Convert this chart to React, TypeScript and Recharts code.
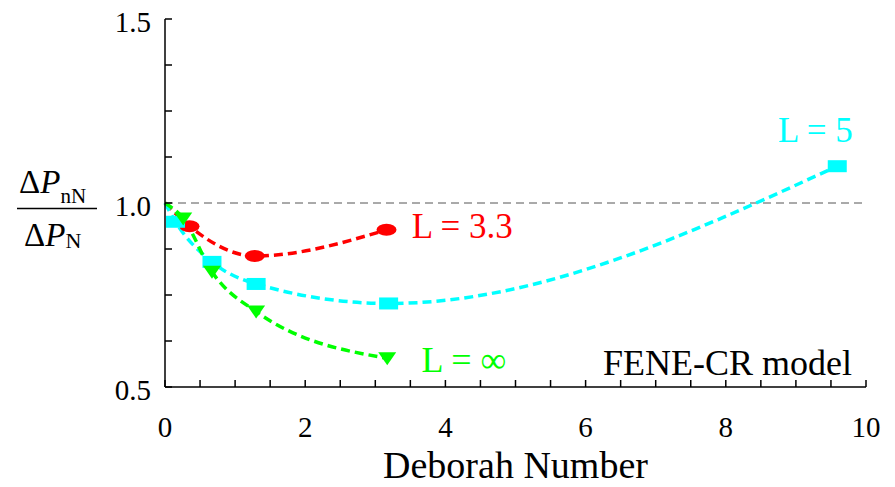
import {
  LineChart,
  Line,
  XAxis,
  YAxis,
  ReferenceLine,
  ReferenceDot,
  Label,
} from 'recharts';

// Deborah number (x) and pressure-drop ratio (y) for each extensibility L
const deL33 = [0, 0.35, 1.28, 3.16];
const ratioL33 = [1.0, 0.937, 0.856, 0.927];

const deL5 = [0, 0.15, 0.67, 1.3, 3.19, 9.59];
const ratioL5 = [1.0, 0.949, 0.84, 0.78, 0.727, 1.1];

const deLinf = [0, 0.26, 0.67, 1.3, 3.17];
const ratioLinf = [1.0, 0.958, 0.813, 0.705, 0.578];

const xTicks = [0, 0.5, 1, 1.5, 2, 2.5, 3, 3.5, 4, 4.5, 5, 5.5, 6, 6.5, 7, 7.5, 8, 8.5, 9, 9.5, 10];
const yTicks = [0.5, 0.625, 0.75, 0.875, 1.0, 1.125, 1.25, 1.375, 1.5];

const curveLabels = [
  { text: 'L = 3.3', x: 3.52, y: 0.904, color: '#ff0000', anchor: 'start', size: 35 },
  { text: 'L = 5', x: 8.745, y: 1.167, color: '#00ffff', anchor: 'start', size: 35 },
  { text: 'L = \u221e', x: 3.66, y: 0.542, color: '#00ff00', anchor: 'start', size: 36 },
  { text: 'FENE-CR model', x: 9.8, y: 0.533, color: '#000000', anchor: 'end', size: 36 },
];

const toRows = (xs: number[], ys: number[]) => xs.map((x, i) => ({ De: x, ratio: ys[i] }));

const serif = 'Liberation Serif, Times New Roman, serif';

const ellipseDot = (color: string) => (p: any) =>
  p.payload.De === 0 ? (
    <g key={p.index} />
  ) : (
    <ellipse key={p.index} cx={p.cx} cy={p.cy} rx={10} ry={6} fill={color} />
  );

const squareDot = (color: string) => (p: any) =>
  p.payload.De === 0 ? (
    <g key={p.index} />
  ) : (
    <rect key={p.index} x={p.cx - 9.5} y={p.cy - 6} width={19} height={12} fill={color} />
  );

const triangleDot = (color: string) => (p: any) =>
  p.payload.De === 0 ? (
    <g key={p.index} />
  ) : (
    <path
      key={p.index}
      d={`M${p.cx - 9},${p.cy - 6} L${p.cx + 9},${p.cy - 6} L${p.cx},${p.cy + 7} Z`}
      fill={color}
    />
  );

const YTitle = () => (
  <g fontFamily={serif} fill="#000">
    <text x={19} y={193} fontSize={33}>
      {'\u0394'}
      <tspan fontStyle="italic">P</tspan>
      <tspan fontSize={21} dy={10}>nN</tspan>
    </text>
    <line x1={17} x2={97} y1={208.5} y2={208.5} stroke="#000" strokeWidth={1.5} />
    <text x={24} y={246} fontSize={33}>
      {'\u0394'}
      <tspan fontStyle="italic">P</tspan>
      <tspan fontSize={22} dy={2}>N</tspan>
    </text>
  </g>
);

export default function App() {
  const axisLine = { stroke: '#000', strokeWidth: 1.5 };
  const tickLine = { stroke: '#000', strokeWidth: 1.5 };
  const tickFont = { fontSize: 29, fontFamily: serif, fill: '#000' };

  return (
    <div style={{ position: 'absolute', left: 0, top: 0, background: '#fff' }}>
      <LineChart width={895} height={487} margin={{ top: 19, right: 29, bottom: 0, left: 0 }}>
        <XAxis
          xAxisId="b"
          type="number"
          dataKey="De"
          domain={[0, 10]}
          ticks={xTicks}
          interval={0}
          height={100}
          tickSize={-7}
          tickMargin={36}
          axisLine={axisLine}
          tickLine={tickLine}
          tick={tickFont}
          tickFormatter={(v: number) => (v % 2 === 0 ? String(v) : '')}
        >
          <Label
            value="Deborah Number"
            position="insideBottom"
            offset={9}
            style={{ fontSize: 38, fontFamily: serif, fill: '#000' }}
          />
        </XAxis>
        <XAxis
          xAxisId="t"
          orientation="top"
          type="number"
          domain={[0, 10]}
          ticks={xTicks}
          interval={0}
          height={0}
          tickSize={-7}
          axisLine={axisLine}
          tickLine={tickLine}
          tick={false}
        />
        <YAxis
          yAxisId="l"
          type="number"
          domain={[0.5, 1.5]}
          ticks={yTicks}
          interval={0}
          width={165}
          tickSize={-7}
          tickMargin={21}
          axisLine={axisLine}
          tickLine={tickLine}
          tick={{ ...tickFont, dy: 3 }}
          tickFormatter={(v: number) => (Number.isInteger(v * 2) ? v.toFixed(1) : '')}
          label={{ content: () => <YTitle /> }}
        />
        <YAxis
          yAxisId="r"
          orientation="right"
          type="number"
          domain={[0.5, 1.5]}
          ticks={yTicks}
          interval={0}
          width={0}
          tickSize={-7}
          axisLine={axisLine}
          tickLine={tickLine}
          tick={false}
        />

        <ReferenceLine
          xAxisId="b"
          yAxisId="l"
          y={1}
          stroke="#555"
          strokeWidth={1}
          strokeDasharray="8 5"
        />

        <Line
          xAxisId="b"
          yAxisId="l"
          data={toRows(deL33, ratioL33)}
          dataKey="ratio"
          type="monotone"
          stroke="#ff0000"
          strokeWidth={3.5}
          strokeDasharray="9 5"
          dot={ellipseDot('#ff0000')}
          activeDot={false}
          isAnimationActive={false}
        />
        <Line
          xAxisId="b"
          yAxisId="l"
          data={toRows(deL5, ratioL5)}
          dataKey="ratio"
          type="monotone"
          stroke="#00ffff"
          strokeWidth={3.5}
          strokeDasharray="9 5"
          dot={squareDot('#00ffff')}
          activeDot={false}
          isAnimationActive={false}
        />
        <Line
          xAxisId="b"
          yAxisId="l"
          data={toRows(deLinf, ratioLinf)}
          dataKey="ratio"
          type="monotone"
          stroke="#00ff00"
          strokeWidth={3.5}
          strokeDasharray="9 5"
          dot={triangleDot('#00ff00')}
          activeDot={false}
          isAnimationActive={false}
        />

        {curveLabels.map((c) => (
          <ReferenceDot
            key={c.text}
            xAxisId="b"
            yAxisId="l"
            x={c.x}
            y={c.y}
            r={0}
            fill="none"
            stroke="none"
            label={{
              content: (props: any) => {
                const vb = props.viewBox || {};
                return (
                  <text
                    x={vb.x}
                    y={vb.y}
                    textAnchor={c.anchor}
                    fontSize={c.size}
                    fontFamily={serif}
                    fill={c.color}
                  >
                    {c.text}
                  </text>
                );
              },
            }}
          />
        ))}
      </LineChart>
    </div>
  );
}
